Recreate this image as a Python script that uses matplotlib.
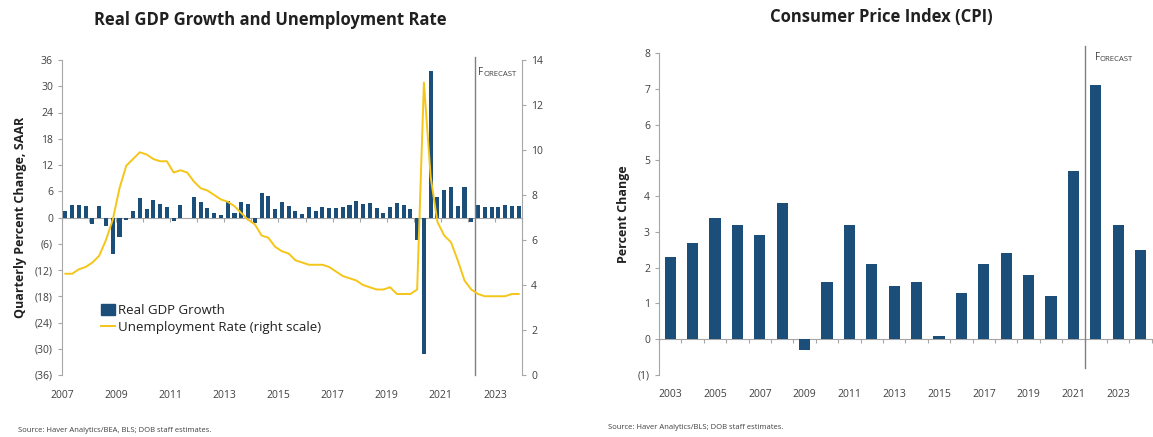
import numpy as np
import matplotlib
matplotlib.use("Agg")
import matplotlib.pyplot as plt
from matplotlib.patches import Patch
from matplotlib.lines import Line2D

plt.rcParams["font.family"] = ["Open Sans", "DejaVu Sans"]

# quarterly real GDP growth, SAAR, 2007Q1-2023Q4 (last 7 = forecast)
gdp = [1.5, 2.8, 2.8, 2.6,
       -1.5, 2.6, -1.9, -8.4,
       -4.4, -0.6, 1.6, 4.5,
       2.0, 4.0, 3.2, 2.3,
       -0.8, 2.9, -0.1, 4.7,
       3.5, 2.1, 1.0, 0.6,
       3.7, 1.0, 3.5, 3.0,
       -1.2, 5.5, 5.0, 1.9,
       3.5, 2.6, 1.4, 0.8,
       2.5, 1.4, 2.5, 2.1,
       2.1, 2.3, 2.9, 3.8,
       3.2, 3.4, 2.1, 1.1,
       2.5, 3.4, 2.9, 2.0,
       -5.1, -31.2, 33.4, 4.7,
       6.4, 6.9, 2.6, 6.9,
       -1.1, 2.8, 2.5, 2.5,
       2.3, 2.8, 2.6, 2.6]

# quarterly unemployment rate, %
unemp = [4.5, 4.5, 4.7, 4.8,
         5.0, 5.3, 6.0, 6.9,
         8.3, 9.3, 9.6, 9.9,
         9.8, 9.6, 9.5, 9.5,
         9.0, 9.1, 9.0, 8.6,
         8.3, 8.2, 8.0, 7.8,
         7.7, 7.5, 7.2, 6.9,
         6.7, 6.2, 6.1, 5.7,
         5.5, 5.4, 5.1, 5.0,
         4.9, 4.9, 4.9, 4.8,
         4.6, 4.4, 4.3, 4.2,
         4.0, 3.9, 3.8, 3.8,
         3.9, 3.6, 3.6, 3.6,
         3.8, 13.0, 8.8, 6.8,
         6.2, 5.9, 5.1, 4.2,
         3.8, 3.6, 3.5, 3.5,
         3.5, 3.5, 3.6, 3.6]

cpi_years = list(range(2003, 2025))
cpi = [2.3, 2.7, 3.4, 3.2, 2.9, 3.8, -0.3, 1.6, 3.2, 2.1, 1.5,
       1.6, 0.1, 1.3, 2.1, 2.4, 1.8, 1.2, 4.7, 7.1, 3.2, 2.5]

blue = "#1b4f7a"
yellow = "#f5c518"
spine = "#a6a6a6"
txt = "#404040"

def paren(v):
    return f"({abs(int(v))})" if v < 0 else f"{int(v)}"

def forecast_tag(ax, x, y):
    t = ax.text(x, y, "F", fontsize=7, color=txt, transform=ax.transData, va="baseline")
    ax.annotate("ORECAST", xy=(1, 0), xycoords=t, fontsize=5.6, color=txt, va="bottom")

fig = plt.figure(figsize=(11.53, 4.37), dpi=100)

# ---------------- left chart ----------------
ax = fig.add_axes([62 / 1153, 1 - 375 / 437, 460 / 1153, 315 / 437])
qx = 2007 + (np.arange(len(gdp)) + 0.5) / 4
ax.bar(qx, gdp, width=0.15, color=blue, zorder=3)
ax.set_xlim(2007, 2024)
ax.set_ylim(-36, 36)
ax.set_yticks(np.arange(-36, 37, 6))
ax.set_yticklabels([paren(v) for v in np.arange(-36, 37, 6)])
ax.spines["top"].set_visible(False)
ax.spines["right"].set_visible(False)
ax.spines["left"].set_color(spine)
ax.spines["bottom"].set_position(("data", 0))
ax.spines["bottom"].set_color(spine)
ax.set_xticks(np.arange(2007, 2025))
ax.set_xticklabels([str(y) if y % 2 == 1 else "" for y in range(2007, 2025)])
ax.tick_params(axis="x", length=3, color=spine, labelsize=7.5, labelcolor=txt, pad=121)
ax.tick_params(axis="y", length=3, color=spine, labelsize=7.5, labelcolor=txt)
ax.set_ylabel("Quarterly Percent Change, SAAR", fontsize=9, fontweight="bold", color="#202020", labelpad=6)
fig.text(270 / 1153, 1 - 20 / 437, "Real GDP Growth and Unemployment Rate", fontsize=12,
         fontweight="bold", color="#202020", ha="center", va="center")
ax.plot([2022.25, 2022.25], [-36, 36.8], color="#808080", lw=1, clip_on=False, zorder=4)
forecast_tag(ax, 2022.38, 32.5)

ax2 = ax.twinx()
ax2.plot(qx, unemp, color=yellow, lw=1.4, zorder=5)
ax2.set_ylim(0, 14)
ax2.set_yticks(np.arange(0, 15, 2))
for s in ["top", "left", "bottom"]:
    ax2.spines[s].set_visible(False)
ax2.spines["right"].set_color(spine)
ax2.tick_params(axis="y", length=3, color=spine, labelsize=7.5, labelcolor=txt)

handles = [Patch(color=blue), Line2D([0], [0], color=yellow, lw=1.4)]
ax.legend(handles, ["Real GDP Growth", "Unemployment Rate (right scale)"],
          loc="upper left", bbox_to_anchor=(0.07, 0.245), frameon=False,
          fontsize=9.5, handlelength=1.1, handleheight=0.9, handletextpad=0.2,
          borderpad=0, labelspacing=0.3, labelcolor="#202020")

fig.text(18 / 1153, 1 - 432 / 437, "Source: Haver Analytics/BEA, BLS; DOB staff estimates.",
         fontsize=5.5, color=txt)

# ---------------- right chart ----------------
bx = fig.add_axes([659 / 1153, 1 - 375 / 437, 494 / 1153, 322 / 437])
bx.bar(cpi_years, cpi, width=0.5, color=blue, zorder=3)
bx.set_xlim(2002.5, 2024.55)
bx.set_ylim(-1, 8)
bx.set_yticks(range(-1, 9))
bx.set_yticklabels([paren(v) for v in range(-1, 9)])
bx.spines["top"].set_visible(False)
bx.spines["right"].set_visible(False)
bx.spines["left"].set_color(spine)
bx.spines["bottom"].set_position(("data", 0))
bx.spines["bottom"].set_color(spine)
bx.set_xticks(np.arange(2002.5, 2025, 1))
bx.set_xticklabels([])
bx.set_xticks(np.arange(2003, 2024, 2), minor=True)
bx.set_xticklabels([str(y) for y in range(2003, 2024, 2)], minor=True)
bx.tick_params(axis="x", which="major", length=3, color=spine)
bx.tick_params(axis="x", which="minor", length=0, labelsize=7.5, labelcolor=txt, pad=36)
bx.tick_params(axis="y", length=3, color=spine, labelsize=7.5, labelcolor=txt)
bx.set_ylabel("Percent Change", fontsize=9, fontweight="bold", color="#202020", labelpad=6)
fig.text(881 / 1153, 1 - 17 / 437, "Consumer Price Index (CPI)", fontsize=12,
         fontweight="bold", color="#202020", ha="center", va="center")
bx.plot([2021.5, 2021.5], [-0.8, 8.2], color="#808080", lw=1, clip_on=False, zorder=4)
forecast_tag(bx, 2021.95, 7.8)

fig.text(608 / 1153, 1 - 429 / 437, "Source: Haver Analytics/BLS; DOB staff estimates.",
         fontsize=5.5, color=txt)

fig.savefig("out.png", dpi=100)
